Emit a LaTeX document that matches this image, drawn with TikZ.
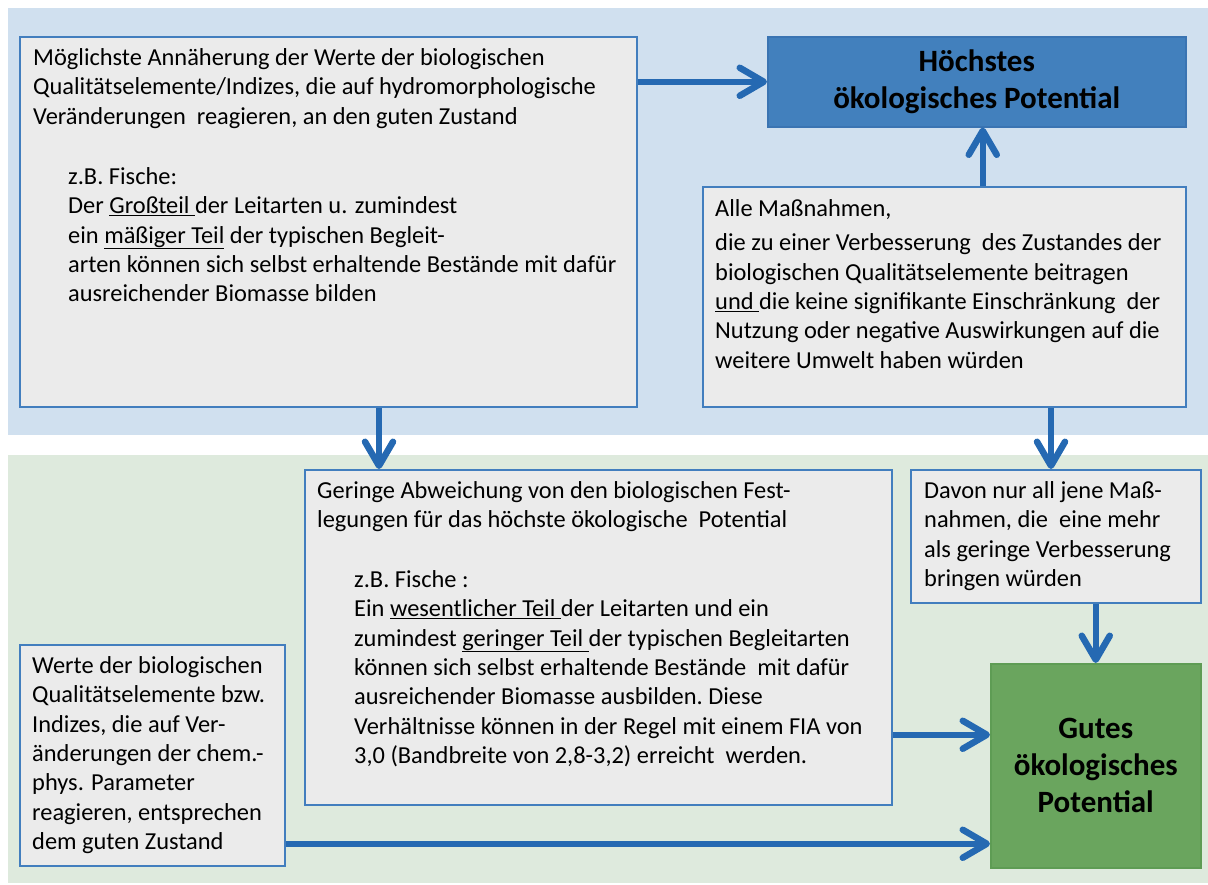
\documentclass[tikz,border=0pt]{standalone}
\usepackage{fontspec}
\setmainfont{Carlito}
\usetikzlibrary{arrows.meta,calc}
\definecolor{bgblue}{RGB}{208,224,239}
\definecolor{bggreen}{RGB}{222,234,221}
\definecolor{boxfill}{RGB}{235,235,235}
\definecolor{boxline}{RGB}{66,126,190}
\definecolor{arrblue}{RGB}{37,105,178}
\definecolor{hochfill}{RGB}{66,128,189}
\definecolor{hochline}{RGB}{58,116,178}
\definecolor{gutfill}{RGB}{106,165,94}
\definecolor{gutline}{RGB}{94,156,84}
\tikzset{
  box/.style={draw=boxline, fill=boxfill, line width=1.5pt, rectangle, inner sep=0pt, anchor=north west},
  txt/.style={inner sep=0pt, anchor=north west, align=left, font=\fontsize{24.4}{29.4}\selectfont},
  ttl/.style={inner sep=0pt, align=center, font=\bfseries\fontsize{31}{37}\selectfont},
  arr/.style={draw=arrblue, line width=6.5pt, -{Straight Barb[length=24pt,width=28pt,round]}},
}
\begin{document}
\begin{tikzpicture}[x=1pt,y=-1pt]
\useasboundingbox (0,0) rectangle (1208,884);
% backgrounds
\fill[bgblue] (8,8) rectangle (1208,435);
\fill[bggreen] (8,455) rectangle (1208,883);

% boxes
\node[box, minimum width=617pt, minimum height=370pt] (box1) at (19,36) {};
\node[box, draw=hochline, fill=hochfill, minimum width=418pt, minimum height=90pt] (hoch) at (767,36) {};
\node[box, minimum width=483pt, minimum height=220pt] (alle) at (702,186) {};
\node[box, minimum width=587pt, minimum height=335pt] (ger) at (304,469) {};
\node[box, minimum width=290pt, minimum height=133pt] (dav) at (910,469) {};
\node[box, minimum width=265pt, minimum height=221pt] (wer) at (19,644) {};
\node[box, draw=gutline, fill=gutfill, minimum width=210pt, minimum height=204pt] (gut) at (990,663) {};

% texts
\node[txt] (t1a) at (33,{65-20.58}) {\strut M\"oglichste Ann\"aherung der Werte der biologischen\\
Qualit\"atselemente/Indizes,\ die auf hydromorphologische\\
Ver\"anderungen\ \ reagieren, an den guten Zustand};
\node[txt] (t1b) at (68,{184-20.58}) {\strut z.B. Fische:\\
Der \underline{Gro\ss teil }der Leitarten u. zumindest\\
ein \underline{m\"a\ss iger Teil} der typischen\ Begleit-\\
arten k\"onnen sich selbst erhaltende\ Best\"ande mit daf\"ur\\
ausreichender\ Biomasse bilden};

\node[ttl] (thoch) at (hoch.center) {H\"ochstes\\\"okologisches Potential};

\node[txt] (t2a) at (715,{216-20.58}) {\strut Alle Ma\ss nahmen,};
\node[txt] (t2b) at (715,{250.5-20.58}) {\strut die zu einer Verbesserung\ \ des Zustandes der\\
biologischen\ Qualit\"atselemente beitragen\\
\underline{und }die keine signifikante Einschr\"ankung\ \ der\\
Nutzung oder negative Auswirkungen auf die\\
weitere Umwelt haben w\"urden};

\node[txt] (t3a) at (317,{498-20.58}) {\strut Geringe Abweichung von den biologischen Fest-\\
legungen f\"ur das h\"ochste \"okologische\ \ Potential};
\node[txt] (t3b) at (354,{587-20.58}) {\strut z.B. Fische :\\
Ein \underline{wesentlicher Teil }der Leitarten und ein\\
zumindest \underline{geringer Teil }der typischen\ Begleitarten\\
k\"onnen sich selbst erhaltende\ Best\"ande\ \ mit daf\"ur\\
ausreichender\ Biomasse ausbilden.\ Diese\\
Verh\"altnisse k\"onnen in der Regel mit einem FIA von\\
3,0 (Bandbreite von 2,8-3,2) erreicht\ \ werden.};

\node[txt] (t4) at (924,{498-20.58}) {\strut Davon nur all jene Ma\ss-\\
nahmen, die\ \ eine mehr\\
als geringe Verbesserung\\
bringen w\"urden};

\node[txt] (t5) at (32,{673-20.58}) {\strut Werte der biologischen\\
Qualit\"atselemente bzw.\\
Indizes, die auf Ver-\\
\"anderungen\ der chem.-\\
phys. Parameter\\
reagieren, entsprechen\\
dem guten Zustand};

\node[ttl] (tgut) at (gut.center) {Gutes\\\"okologisches\\Potential};

% arrows
\draw[arr] (box1.east |- hoch.west) -- (hoch.west);
\draw[arr] ([xshift=6pt]hoch.south |- alle.north) -- ([xshift=6pt]hoch.south);
\draw[arr] ([xshift=360pt]box1.south west) -- ([xshift=360pt]box1.south west |- ger.north);
\draw[arr] ([xshift=349pt]alle.south west) -- ([xshift=349pt]alle.south west |- dav.north);
\draw[arr] (dav.south -| gut.north) -- (gut.north);
\draw[arr] ([yshift=-97.5pt]ger.east) -- ([yshift=-97.5pt]ger.east -| gut.west);
\draw[arr] ([yshift=-88.5pt]wer.east) -- ([yshift=-88.5pt]wer.east -| gut.west);
\end{tikzpicture}
\end{document}
